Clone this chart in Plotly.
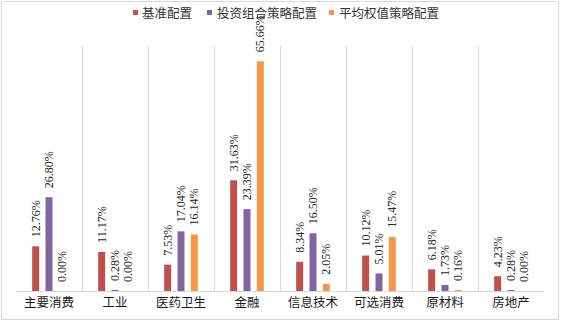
import plotly.graph_objects as go

categories = ["主要消费", "工业", "医药卫生", "金融", "信息技术", "可选消费", "原材料", "房地产"]
series_names = ["基准配置", "投资组合策略配置", "平均权值策略配置"]
benchmark = [12.76, 11.17, 7.53, 31.63, 8.34, 10.12, 6.18, 4.23]
portfolio = [26.80, 0.28, 17.04, 23.39, 16.50, 5.01, 1.73, 0.28]
equal_weight = [0.00, 0.00, 16.14, 65.66, 2.05, 15.47, 0.16, 0.00]
colors = ["#C0504D", "#8064A2", "#F79646"]

W, H = 561, 322
ML, MR, MT, MB = 16, 17, 46, 31
PW, PH = W - ML - MR, H - MT - MB


def px_x(p):
    return (p - ML) / PW


def px_y(p):
    return (H - MB - p) / PH


fig = go.Figure()
for name, vals, col in zip(series_names, [benchmark, portfolio, equal_weight], colors):
    fig.add_trace(go.Bar(
        x=categories, y=vals, name=name, marker_color=col, marker_line_width=0,
        text=["\u00a0\u00a0%.2f%%" % v for v in vals],
        textposition="outside", textangle=-90, constraintext="none",
        textfont=dict(family="Liberation Serif", size=12, color="#262626"),
        cliponaxis=False, showlegend=False, hoverinfo="skip",
    ))

shapes = [dict(type="rect", xref="paper", yref="paper",
               x0=px_x(1.5), x1=px_x(558.5), y0=px_y(319.5), y1=px_y(1.5),
               line=dict(color="#D9D9D9", width=1), fillcolor="rgba(0,0,0,0)", layer="below")]
annotations = []
legend_sq = [133, 207, 329]
legend_tx = [140, 215, 337]
for name, col, sx, tx in zip(series_names, colors, legend_sq, legend_tx):
    shapes.append(dict(type="rect", xref="paper", yref="paper",
                       x0=px_x(sx), x1=px_x(sx + 5), y0=px_y(15), y1=px_y(10),
                       line=dict(width=0), fillcolor=col))
    annotations.append(dict(xref="paper", yref="paper", x=px_x(tx), y=px_y(12.5),
                            xanchor="left", yanchor="middle", showarrow=False, text=name,
                            font=dict(family="Noto Sans CJK SC", size=12.5, color="#333333")))

fig.update_layout(
    width=W, height=H,
    margin=dict(l=ML, r=MR, t=MT, b=MB),
    paper_bgcolor="white", plot_bgcolor="white",
    barmode="group", bargap=0.394, bargroupgap=0.475,
    showlegend=False,
    shapes=shapes, annotations=annotations,
    xaxis=dict(tickson="boundaries", showgrid=True, gridcolor="#D9D9D9", gridwidth=1,
               showline=True, linecolor="#D9D9D9", linewidth=1, ticks="", automargin=False,
               tickfont=dict(family="Noto Sans CJK SC", size=12.5, color="#1a1a1a")),
    yaxis=dict(range=[0, 70], visible=False, showgrid=False, zeroline=False, automargin=False),
)

fig.write_html("out.html", config={"displayModeBar": False},
               post_script="document.body.style.margin='0';")
